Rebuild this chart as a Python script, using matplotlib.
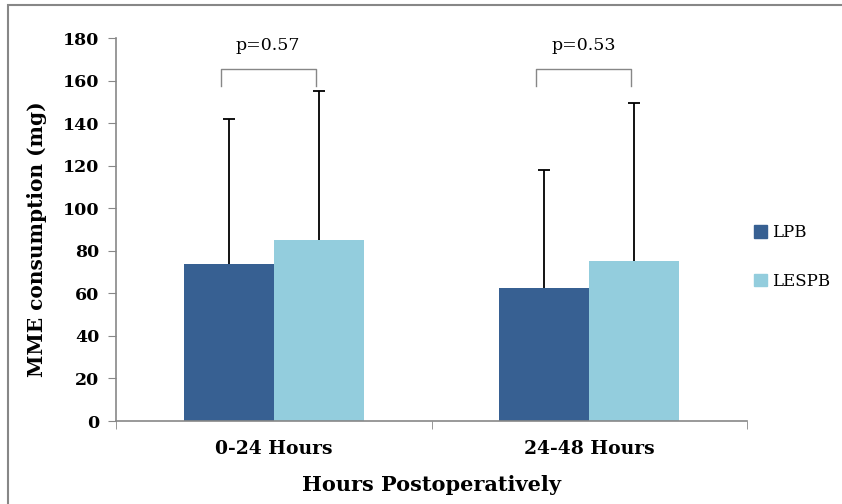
import matplotlib
matplotlib.use("Agg")
import matplotlib.pyplot as plt
from matplotlib.patches import Rectangle, Patch
import numpy as np

categories = ["0-24 Hours", "24-48 Hours"]
series_names = ["LPB", "LESPB"]
lpb_mean = [74, 62.5]
lespb_mean = [85, 75]
lpb_err = [68, 55.5]
lespb_err = [70, 74.5]
p_labels = ["p=0.57", "p=0.53"]
yticks = [0, 20, 40, 60, 80, 100, 120, 140, 160, 180]

c_lpb = "#376092"
c_lespb = "#93CDDD"
gray = "#878787"

plt.rcParams['font.family'] = ['DejaVu Serif']

fig = plt.figure(figsize=(8.42, 5.04), dpi=100)
ax = fig.add_axes([116/842, 1-421/504, 631/842, 383/504])

x = np.arange(len(categories))
w = 0.285
ax.bar(x - w/2, lpb_mean, w, color=c_lpb, zorder=2)
ax.bar(x + w/2, lespb_mean, w, color=c_lespb, zorder=2)

# upward-only error bars
for xs, m, e in [(x - w/2, lpb_mean, lpb_err), (x + w/2, lespb_mean, lespb_err)]:
    m = np.array(m); e = np.array(e)
    ax.vlines(xs, m, m + e, color='black', lw=1.3, zorder=1)
    ax.plot(xs, m + e, linestyle='none', marker='_', markersize=9,
            markeredgewidth=1.3, color='black', zorder=1)

# significance brackets
for i in range(len(categories)):
    x0 = x[i] - w/2 - 0.025
    x1 = x[i] + w/2 - 0.01
    ax.plot([x0, x0, x1, x1], [157.5, 165.5, 165.5, 157.5], color=gray, lw=1.0,
            solid_joinstyle='round', clip_on=False)
    ax.text((x0 + x1)/2, 176.5, p_labels[i], ha='center', va='center', fontsize=12.5)

ax.set_xlim(-0.5, 1.5)
ax.set_ylim(0, 180)
ax.set_yticks(yticks)
ax.set_yticklabels([str(t) for t in yticks], fontsize=12.5, fontweight='bold')
ax.set_xticks(x)
ax.set_xticklabels(categories, fontsize=13.5, fontweight='bold')
ax.set_xticks([-0.5, 0.5, 1.5], minor=True)
ax.tick_params(axis='x', which='major', length=0, pad=14)
ax.tick_params(axis='x', which='minor', length=6, color=gray, direction='out')
ax.tick_params(axis='y', length=6, color=gray, direction='out', pad=6)
for s in ['top', 'right']:
    ax.spines[s].set_visible(False)
for s in ['left', 'bottom']:
    ax.spines[s].set_color(gray)
    ax.spines[s].set_linewidth(1.2)

ax.set_ylabel("MME consumption (mg)", fontsize=14.5, fontweight='bold')
ax.yaxis.set_label_coords(-0.11, 0.475)
ax.set_xlabel("Hours Postoperatively", fontsize=15, fontweight='bold', labelpad=12)

handles = [Patch(color=c_lpb), Patch(color=c_lespb)]
fig.legend(handles, series_names, loc='center left', bbox_to_anchor=(754/842, 1-257/504),
           frameon=False, fontsize=12, handlelength=0.8, handleheight=0.8,
           handletextpad=0.3, labelspacing=1.9, borderpad=0, borderaxespad=0)

fig.patches.append(Rectangle((8/842, -0.1), 1.2, 1-5/504+0.1, transform=fig.transFigure,
                             fill=False, edgecolor=gray, lw=1.5))

fig.savefig("out.png", dpi=100)
